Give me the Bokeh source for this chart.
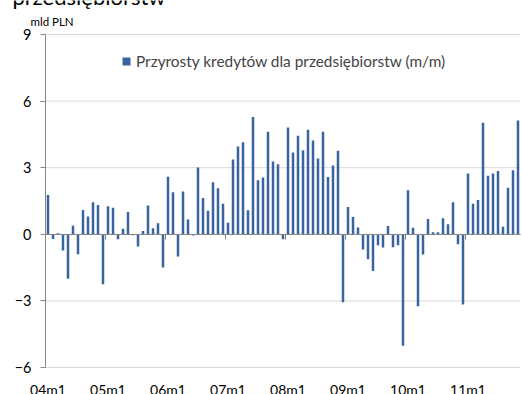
from bokeh.plotting import figure
from bokeh.models import (ColumnDataSource, Range1d, FixedTicker, LinearAxis,
                          Label, Legend, LegendItem)
from bokeh.embed import file_html
from bokeh.resources import INLINE

# Monthly change of corporate loans, bn PLN, 2004m1 .. 2011m11
values = [
    1.77, -0.21, 0.05, -0.73, -2.00, 0.39, -0.90, 1.10, 0.80, 1.44, 1.32, -2.25,   # 2004
    1.26, 1.20, -0.22, 0.25, 1.00, -0.04, -0.55, 0.15, 1.30, 0.27, 0.50, -1.50,    # 2005
    2.59, 1.89, -1.00, 1.93, 0.67, -0.05, 3.01, 1.63, 1.06, 2.35, 2.07, 1.38,      # 2006
    0.52, 3.37, 3.96, 4.15, 1.08, 5.28, 2.44, 2.56, 4.62, 3.28, 3.15, -0.22,       # 2007
    4.81, 3.69, 4.44, 3.79, 4.71, 4.23, 3.42, 4.62, 2.58, 3.10, 3.76, -3.06,       # 2008
    1.23, 0.78, 0.31, -0.69, -1.12, -1.65, -0.49, -0.60, 0.37, -0.58, -0.49, -5.02,  # 2009
    1.98, 0.30, -3.24, -0.91, 0.69, 0.09, 0.09, 0.72, 0.45, 1.44, -0.45, -3.16,    # 2010
    2.74, 1.38, 1.54, 5.02, 2.64, 2.74, 2.85, 0.34, 2.10, 2.88, 5.13,              # 2011
]
tick_labels = ["04m1", "05m1", "06m1", "07m1", "08m1", "09m1", "10m1", "11m1"]
y_ticks = [-6, -3, 0, 3, 6, 9]
series_name = "Przyrosty kredytów dla przedsiębiorstw (m/m)"
unit_label = "mld PLN"
title_text = "przedsiębiorstw"

FONT = "Lato"
BAR = "#3A64A0"
AXIS = "#868686"
GRID = "#D9D9D9"

W, H = 522, 394
LEFT, TOP, BOTTOM = 45, 34, 27          # margins around the plotting area, px

n = len(values)
idx = list(range(n))
label_pos = [12 * i for i in range(len(tick_labels))]
year_bounds = [12 * i - 0.5 for i in range(1, len(tick_labels))]

# the frame covers the whole canvas; ranges are widened so the
# category/value area sits inside the margins above
x_lo, x_hi = -0.5, n - 0.5
y_lo, y_hi = y_ticks[0], y_ticks[-1]
px_x = (W - LEFT - 2) / (x_hi - x_lo)
px_y = (H - TOP - BOTTOM) / (y_hi - y_lo)
x_range = Range1d(x_lo - LEFT / px_x, x_lo + (W - LEFT) / px_x)
y_range = Range1d(y_lo - BOTTOM / px_y, y_hi + TOP / px_y)

p = figure(width=W, height=H, x_range=x_range, y_range=y_range,
           x_axis_location=None, y_axis_location=None,
           output_backend="svg", toolbar_location=None,
           min_border=0, min_border_left=0, min_border_right=0,
           min_border_top=0, min_border_bottom=0)
p.outline_line_color = None
p.background_fill_color = "white"
p.border_fill_color = "white"
p.xgrid.visible = False
p.ygrid.visible = False

# horizontal gridlines across the category area
p.segment(x0=x_lo, x1=x_hi, y0=y_ticks, y1=y_ticks,
          line_color=GRID, line_width=1)

src = ColumnDataSource(data=dict(x=idx, top=values))
bars = p.vbar(x="x", top="top", bottom=0, width=0.5, source=src,
              fill_color=BAR, line_color=None)

# square swatch for the legend (not drawn in the plot itself)
swatch = p.scatter(x="x", y="top", source=src, marker="square",
                   fill_color=BAR, line_color=None, visible=False)

# value axis
y_axis = LinearAxis(fixed_location=x_lo, bounds=(y_lo, y_hi),
                    ticker=FixedTicker(ticks=y_ticks),
                    axis_line_color=AXIS, major_tick_line_color=AXIS,
                    major_tick_out=5, major_tick_in=0,
                    minor_tick_line_color=None, major_label_standoff=9,
                    major_label_text_font=FONT,
                    major_label_text_font_size="14.5px",
                    major_label_text_color="black")
p.add_layout(y_axis, "left")

# category axis line at zero, ticks between years
zero_axis = LinearAxis(fixed_location=0, bounds=(x_lo, x_hi),
                       ticker=FixedTicker(ticks=year_bounds),
                       axis_line_color=AXIS, major_tick_line_color=AXIS,
                       major_tick_out=5, major_tick_in=0,
                       minor_tick_line_color=None,
                       major_label_text_color=None)
p.add_layout(zero_axis, "below")

# year labels under the plotting area
label_axis = LinearAxis(fixed_location=y_lo, ticker=FixedTicker(ticks=label_pos),
                        major_label_overrides={pos: lab for pos, lab in zip(label_pos, tick_labels)},
                        axis_line_color=None, major_tick_line_color=None,
                        minor_tick_line_color=None, major_label_standoff=7,
                        major_label_text_font=FONT,
                        major_label_text_font_size="14px",
                        major_label_text_color="black")
p.add_layout(label_axis, "below")

legend = Legend(items=[LegendItem(label=series_name, renderers=[swatch])],
                location=(116, 323), glyph_width=20, glyph_height=20,
                label_text_font=FONT, label_text_font_size="15.4px",
                label_standoff=-2, label_height=20, padding=0, margin=0,
                spacing=0, border_line_color=None, background_fill_alpha=0)
p.add_layout(legend)

p.add_layout(Label(x=30, y=H - 21, x_units="screen", y_units="screen",
                   text=unit_label, text_font=FONT, text_font_size="11.5px",
                   text_baseline="alphabetic", text_color="black"))
p.add_layout(Label(x=12, y=H + 4.5, x_units="screen", y_units="screen",
                   text=title_text, text_font=FONT, text_font_size="22px",
                   text_baseline="alphabetic", text_color="black"))

open("out.html", "w").write(file_html(p, INLINE))
